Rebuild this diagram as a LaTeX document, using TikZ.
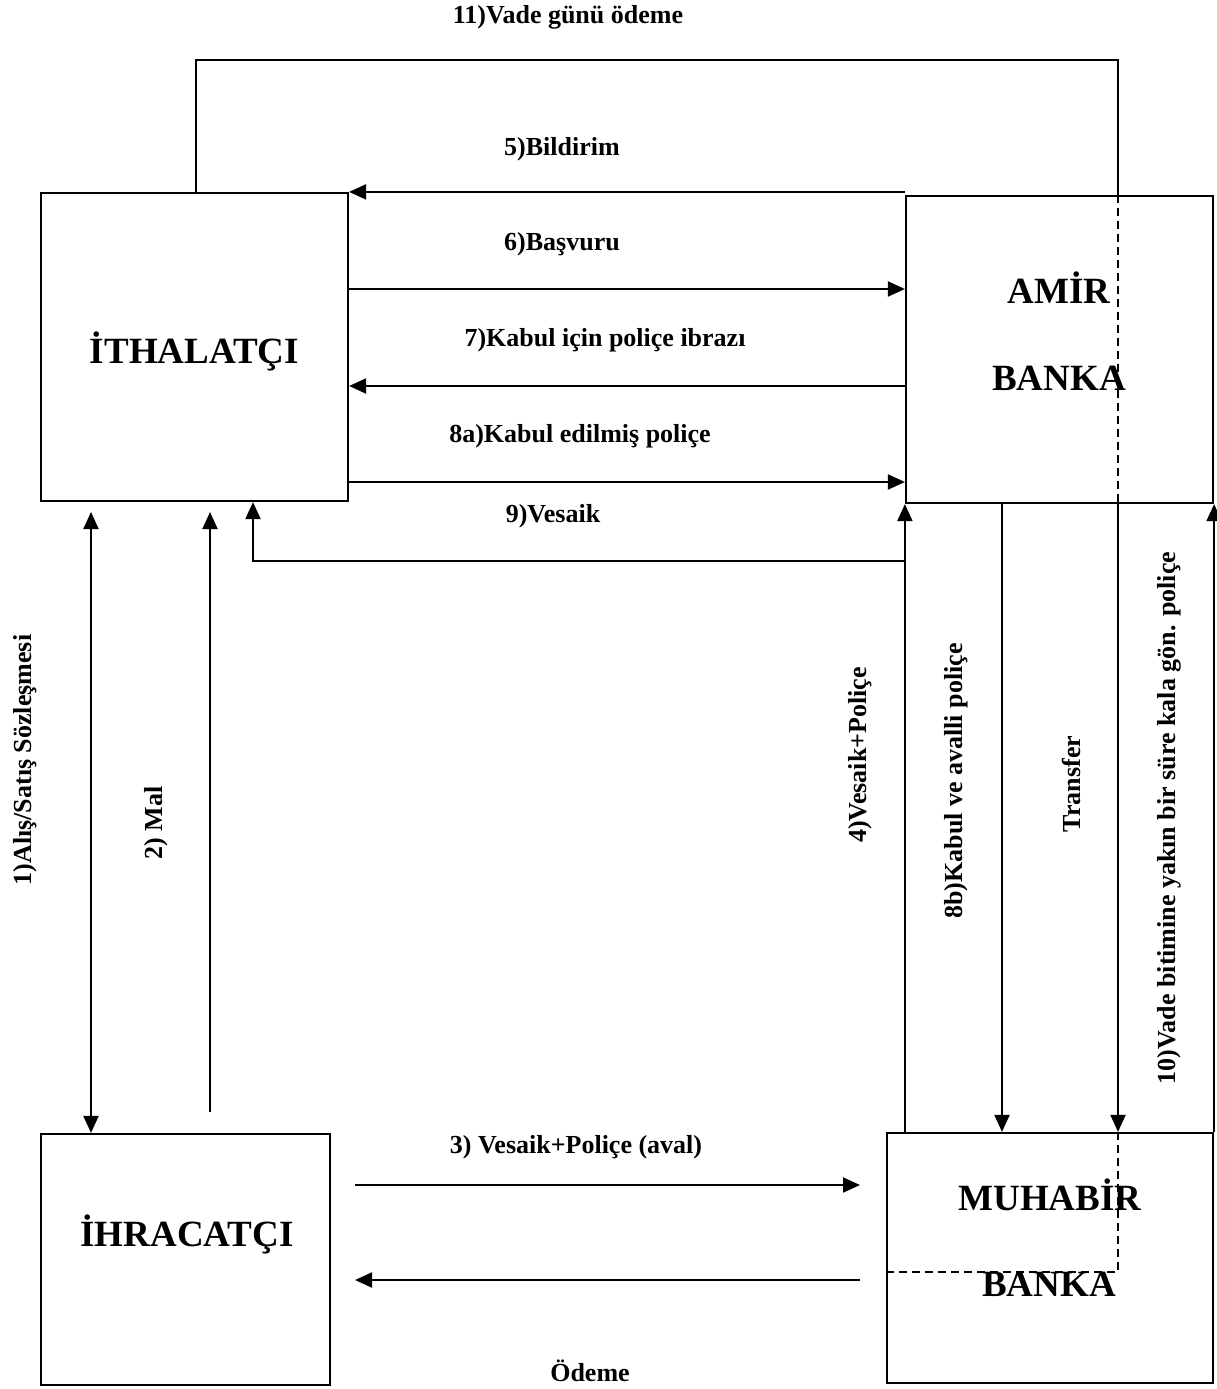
\documentclass[tikz,border=0pt]{standalone}
\usepackage{fontspec}
\setmainfont{Liberation Serif}
\usetikzlibrary{arrows.meta}
\begin{document}
\begin{tikzpicture}[x=1pt,y=-1pt,
  box/.style={draw,line width=2.2pt,inner sep=0pt,rectangle},
  big/.style={font=\fontsize{37}{44}\selectfont\bfseries,anchor=base,inner sep=0pt},
  lab/.style={font=\fontsize{26}{31}\selectfont\bfseries,anchor=base,inner sep=0pt},
  vlab/.style={lab,rotate=90},
  conn/.style={line width=2pt},
  arr/.style={conn,-{Triangle[length=17pt,width=15pt]}},
  darr/.style={conn,{Triangle[length=17pt,width=15pt]}-{Triangle[length=17pt,width=15pt]}},
  dashline/.style={line width=1.8pt,dash pattern=on 8pt off 5pt}
]
\useasboundingbox (0,0) rectangle (1217,1389);
\fill[white] (0,0) rectangle (1217,1389);

% boxes
\node[box,minimum width=307pt,minimum height=308pt] (ith) at (194.5,347) {};
\node[box,minimum width=307pt,minimum height=307pt] (amir) at (1059.5,349.5) {};
\node[box,minimum width=289pt,minimum height=251pt] (ihr) at (185.5,1259.5) {};
\node[box,minimum width=326pt,minimum height=250pt] (muh) at (1050,1258) {};

% box texts
\node[big] (tith) at (194.5,363) {İTHALATÇI};
\node[big] (tamir1) at (1059,303) {AMİR};
\node[big] (tamir2) at (1059,390) {BANKA};
\node[big] (tihr) at (187,1246) {İHRACATÇI};
\node[big] (tmuh1) at (1050,1210) {MUHABİR};
\node[big] (tmuh2) at (1049,1296) {BANKA};

% free-end coordinates
\coordinate (c1top) at (91,512);
\coordinate (c2a) at (210,1112);
\coordinate (c2b) at (210,512);
\coordinate (c11) at (1118,60);
\coordinate (c11d) at (1118,1272);
\coordinate (c3a) at (355,1185);
\coordinate (c3b) at (860,1185);
\coordinate (coda) at (860,1280);
\coordinate (codb) at (355,1280);
\coordinate (c9) at (253,561);

% 11) Vade gunu odeme
\draw[conn] (ith.north -| 196,0) |- (c11) -- (amir.north -| c11);
\draw[dashline] (amir.north -| c11) -- (amir.south -| c11);
\draw[arr] (amir.south -| c11) -- (muh.north -| c11);
\draw[dashline] (muh.north -| c11) -- (c11d) -- (muh.west |- c11d);

% horizontal arrows ITHALATCI <-> AMIR
\draw[arr] (ith.north east -| amir.west) -- (ith.north east);
\draw[arr] (ith.east |- 0,289) -- (amir.west |- 0,289);
\draw[arr] (amir.west |- 0,386) -- (ith.east |- 0,386);
\draw[arr] (ith.east |- 0,482) -- (amir.west |- 0,482);
\draw[arr] (amir.west |- c9) -- (c9) -- (ith.south -| c9);

% left verticals
\draw[darr] (c1top) -- (ihr.north -| c1top);
\draw[arr] (c2a) -- (c2b);

% right verticals
\draw[arr] (muh.north -| amir.south west) -- (amir.south west);
\draw[arr] (amir.south -| 1002,0) -- (muh.north -| 1002,0);
\draw[arr] (muh.north east) -- (amir.south east);

% bottom arrows
\draw[arr] (c3a) -- (c3b);
\draw[arr] (coda) -- (codb);

% labels
\node[lab] (l11) at (568,24) {11)Vade günü ödeme};
\node[lab] (l5) at (562,155) {5)Bildirim};
\node[lab] (l6) at (562,250) {6)Başvuru};
\node[lab] (l7) at (605,346) {7)Kabul için poliçe ibrazı};
\node[lab] (l8a) at (580,442) {8a)Kabul edilmiş poliçe};
\node[lab] (l9) at (553,522) {9)Vesaik};
\node[lab] (l3) at (576,1153) {3) Vesaik+Poliçe (aval)};
\node[lab] (lod) at (590,1381) {Ödeme};

\node[vlab] (l1) at (31,760) {1)Alış/Satış Sözleşmesi};
\node[vlab] (l2) at (162,823) {2) Mal};
\node[vlab] (l4) at (866,755) {4)Vesaik+Poliçe};
\node[vlab] (l8b) at (962,781) {8b)Kabul ve avalli poliçe};
\node[vlab] (ltr) at (1080,784) {Transfer};
\node[vlab] (l10) at (1175,818) {10)Vade bitimine yakın bir süre kala gön. poliçe};
\end{tikzpicture}
\end{document}
